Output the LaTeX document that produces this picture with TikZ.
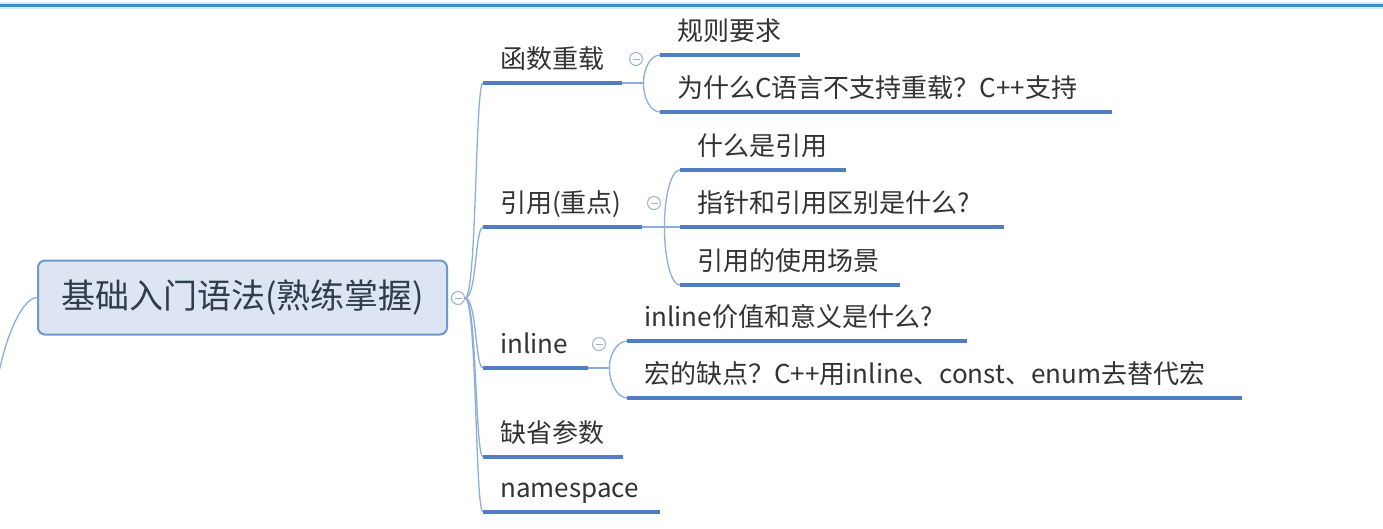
\documentclass[tikz,border=0pt]{standalone}
\usepackage{fontspec}
\setmainfont{Noto Sans CJK SC}
\definecolor{ulc}{HTML}{4F7FC2}
\definecolor{brc}{HTML}{8CAEDA}
\definecolor{txc}{HTML}{333333}
\definecolor{rootfill}{HTML}{DCE5F1}
\definecolor{rootdraw}{HTML}{6E99CF}
\definecolor{roottxt}{HTML}{2E3D4F}
\definecolor{foldc}{HTML}{9CB1CC}
\definecolor{barc}{HTML}{3B8DD0}
\definecolor{barhalo}{HTML}{CFEFF7}
\tikzset{
  kid/.style={anchor=south west, inner xsep=17pt, inner ysep=14pt,
    text height=20pt, text depth=0pt, align=left, text=txc,
    font=\fontsize{26pt}{30pt}\selectfont},
  ul/.style={draw=ulc, line width=3.5pt},
  br/.style={draw=brc, line width=1.3pt},
  rootbox/.style={draw=rootdraw, line width=2pt, fill=rootfill, rounded corners=7pt,
    minimum width=409pt, minimum height=74pt, inner sep=0pt, text=roottxt,
    font=\fontsize{34pt}{40pt}\selectfont},
  fold/.style={circle, draw=foldc, line width=1pt, fill=white, minimum size=13pt, inner sep=0pt,
    path picture={\draw[foldc, line width=1pt] ([xshift=-3.5pt]path picture bounding box.center) -- ([xshift=3.5pt]path picture bounding box.center);}}
}
\begin{document}
\begin{tikzpicture}[x=1pt,y=-1pt]
\fill[white] (0,0) rectangle (1383,528);
\clip (0,0) rectangle (1383,528);
% top bar
\draw[barhalo, line width=7pt] (0,5) -- (1383,5);
\draw[barc, line width=3pt] (0,5) -- (1383,5);

% root
\node[rootbox] (root) at (242.5,297.5) {基础入门语法(熟练掌握)};
\coordinate (offl) at (-4,390);
\draw[br] (root.west) .. controls +(-16,0) and +(6,-45) .. (offl);

% first level
\node[kid, text width=105pt] (hs) at (483,83) {函数重载};
\node[kid, text width=125pt] (yy) at (483,227) {引用(重点)};
\node[kid, text width=71pt]  (il) at (483,368) {inline};
\node[kid, text width=106pt] (qs) at (483,457) {缺省参数};
\node[kid, text width=143pt] (ns) at (483,512) {namespace};

% second level
\node[kid, text width=106pt] (gz) at (660,55) {规则要求};
\node[kid, text width=418pt] (ws) at (660,112) {为什么C语言不支持重载？C++支持};
\node[kid, text width=132pt] (sm) at (680,170) {什么是引用};
\node[kid, text width=290pt] (zz) at (680,227) {指针和引用区别是什么?};
\node[kid, text width=186pt] (sy) at (680,285) {引用的使用场景};
\node[kid, text width=306pt] (jz) at (627,341) {inline价值和意义是什么?};
\node[kid, text width=581pt] (hd) at (627,398) {宏的缺点？C++用inline、const、enum去替代宏};

% underlines
\foreach \n in {hs,yy,il,qs,ns,gz,ws,sm,zz,sy,jz,hd}
  \draw[ul] (\n.south west) -- (\n.south east);

% fold circles
\node[fold] (f0) at (458,298) {};
\node[fold] (f1) at (636,59) {};
\node[fold] (f2) at (654,203) {};
\node[fold] (f3) at (599,344) {};

% root branches
\foreach \c in {hs,yy,il,qs,ns}
  \draw[br] (f0.east) .. controls +(12,0) and +(-8,0) .. (\c.south west);

% fork 1
\coordinate (k1) at ([xshift=21pt]hs.south east);
\draw[br] (hs.south east) -- (k1);
\draw[br] (k1) .. controls +(0,-15) and +(-9,0) .. (gz.south west);
\draw[br] (k1) .. controls +(0,16) and +(-9,0) .. (ws.south west);

% fork 2
\coordinate (k2) at ([xshift=22pt]yy.south east);
\draw[br] (yy.south east) -- (zz.south west);
\draw[br] (k2) .. controls +(0,-31) and +(-9,0) .. (sm.south west);
\draw[br] (k2) .. controls +(0,31) and +(-9,0) .. (sy.south west);

% fork 3
\coordinate (k3) at ([xshift=21pt]il.south east);
\draw[br] (il.south east) -- (k3);
\draw[br] (k3) .. controls +(0,-15) and +(-9,0) .. (jz.south west);
\draw[br] (k3) .. controls +(0,16) and +(-9,0) .. (hd.south west);
\end{tikzpicture}
\end{document}
